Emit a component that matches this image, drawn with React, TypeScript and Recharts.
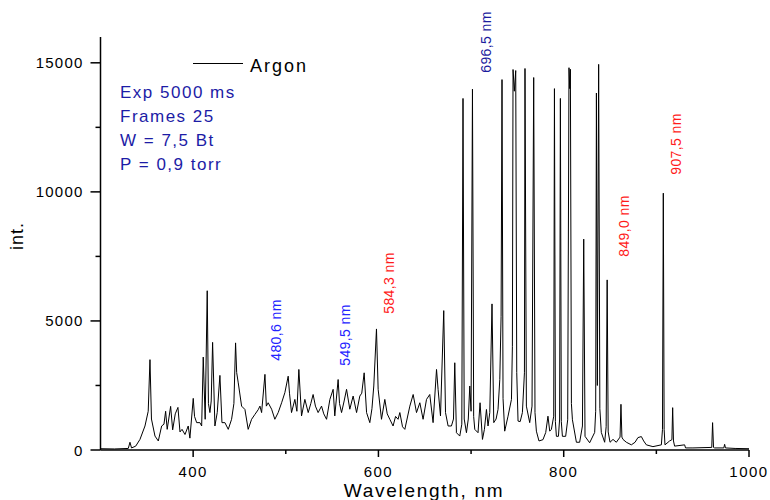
// Argon emission spectrum (300–1000 nm).
import { Line, LineChart, XAxis, YAxis } from "recharts";

// [wavelength nm, intensity] — near-UV / blue band
const blueBand: [number, number][] = [
  [300, 50], [315, 40], [330, 60], [331.8, 300], [333.5, 80], [338, 150], [342.6, 410],
  [348, 930], [351.5, 1500], [353.4, 3500], [355, 1200], [358.8, 540], [362.4, 350],
  [366, 930], [368.5, 1000], [370.3, 1500], [372, 800], [375.7, 1690], [377.9, 780],
  [380.7, 1400], [383.6, 1650], [385.8, 700], [388, 800], [391.2, 600], [394.7, 930],
  [396.5, 460], [400.1, 2000], [401.5, 1300], [403.8, 1060], [407.3, 1060], [409.2, 930],
  [410.9, 3600], [413, 1190], [415.2, 6170], [416.5, 1800], [418.1, 1450], [419.5, 1900],
  [421, 4170], [423.5, 930], [426, 1450], [428.9, 2890], [431.1, 1060], [434.3, 1060],
  [437.9, 800], [441.5, 1190], [444, 1800], [445.8, 4150], [447, 3000], [448.7, 2600],
  [452.3, 1700], [455.9, 1570], [459.4, 800], [463.1, 1190], [466.7, 1380], [470.2, 1560],
];

// green / yellow band
const greenBand: [number, number][] = [
  [472.1, 1700], [473.9, 1450], [477.5, 2930], [479, 1700], [481, 1830], [484.7, 1580],
  [488.2, 1190], [491.8, 1450], [495.5, 1830], [499, 2220], [502.6, 2860], [504, 2200],
  [506.2, 1450], [509.8, 1960], [512, 1500], [514.1, 3120], [517, 1320], [520.6, 1960],
  [524.2, 1450], [527, 1800], [529.5, 2150], [532, 1700], [534.9, 1450], [538.6, 1700],
  [541, 1400], [544, 1190], [547.6, 1960], [551.1, 2350], [552.9, 1320], [556.5, 2730],
  [558, 1800], [560.2, 1450], [563, 1900], [565.6, 2350], [569.1, 1580], [572.7, 2090],
  [576.4, 1450], [579.9, 2090], [582, 2200], [584.6, 2990], [587.2, 1450], [590.7, 1060],
  [593, 1600], [595, 2480], [597.9, 4690], [599.7, 2350], [603.3, 1190], [606.9, 1960],
  [609.5, 1400], [612.3, 1190], [615.8, 930], [618.5, 1300], [621.2, 1190],
];

// red band with the strong 4p-4s lines
const redBand: [number, number][] = [
  [623.1, 1450], [626, 900], [628.5, 800], [633.9, 1700], [637.5, 2150], [641.1, 1450],
  [644.7, 1830], [648.2, 1190], [651.9, 1960], [655.4, 2150], [659, 1060], [662.7, 3120],
  [664.4, 2350], [667, 1320], [670.5, 5400], [672.4, 1450], [675.2, 930], [678.8, 930],
  [681, 1200], [682.4, 3380], [684.2, 670], [687.8, 540], [690, 1000], [691.3, 13620],
  [692.6, 1200], [695, 670], [697, 1200], [698.6, 2480], [700, 1500], [701.5, 13980],
  [702.8, 1300], [704, 800], [707.5, 670], [709.7, 1830], [712.3, 410], [714.4, 800],
  [716.6, 1570], [718.3, 930], [720.2, 1450], [722.6, 5660], [724.5, 1060], [727, 1200],
  [729.1, 1570], [731, 2730], [732.4, 5180], [733.4, 14350], [734.5, 2000], [736.3, 730],
  [739.9, 1310], [743.6, 1960], [744.6, 4000], [745.3, 14740], [746.7, 13900],
  [748.2, 14700], [749.3, 3000], [750.7, 1120], [753, 1100], [755.4, 1450], [757.6, 2990],
  [758.2, 14780], [759.7, 1700], [763.3, 1060], [765.8, 1700], [767.6, 14430], [769, 1450],
  [770.5, 730], [773.3, 350],
];

// near-infrared band
const irBand: [number, number][] = [
  [777.6, 400], [780.6, 680], [783, 1310], [784.9, 730], [786.7, 800], [789.2, 1310],
  [790, 14000], [791, 1100], [792.1, 530], [794.3, 530], [795.6, 1200], [796.4, 13620],
  [797.4, 1100], [798.6, 530], [802.1, 530], [804.3, 1170], [805.7, 14810], [806.5, 14000],
  [807.2, 14750], [808.3, 1800], [809.4, 1170], [813.7, 300], [817.2, 300], [820.2, 930],
  [821.6, 8170], [823, 530], [828, 280], [833.4, 680], [834.5, 1500], [835.3, 13830],
  [836.3, 2500], [837.7, 14940], [839, 1600], [840.6, 680], [844.2, 300], [845.8, 900],
  [846.9, 6590], [848, 700], [850, 300], [853.2, 410], [856.8, 300], [860.8, 500],
  [861.8, 1770], [862.8, 500], [864, 410], [867.6, 300], [873, 200], [877, 300],
  [880.1, 480], [883.8, 520], [886.3, 350], [889.2, 200], [896.3, 130], [905.4, 200],
  [906.6, 800], [907.5, 9950], [908.4, 800], [909.3, 200], [914.3, 350], [916.8, 400],
  [917.6, 1640], [918.5, 350], [919.7, 150], [930.5, 200], [931.5, 80], [939.5, 80],
  [959.8, 100], [960.7, 1060], [961.7, 100], [962.9, 80], [972.8, 80], [973.7, 220],
  [974.6, 80], [985, 60], [1000, 50],
];

const X_TICKS = [300, 400, 500, 600, 700, 800, 900, 1000];
const X_LABELED = [400, 600, 800, 1000];
const Y_TICKS = [0, 2500, 5000, 7500, 10000, 12500, 15000];
const Y_LABELED = [0, 5000, 10000, 15000];

const INFO_LINES = ["Exp 5000 ms", "Frames 25", "W = 7,5 Bt", "P = 0,9 torr"];

// line annotations: text, colour, centre of the rotated label (px)
const MARKERS: { text: string; color: string; cx: number; cy: number }[] = [
  { text: "480,6 nm", color: "#2323ff", cx: 276, cy: 330 },
  { text: "549,5 nm", color: "#2323ff", cx: 345, cy: 335 },
  { text: "584,3 nm", color: "#ff1a1a", cx: 389, cy: 283 },
  { text: "696,5 nm", color: "#1c1c9e", cx: 486, cy: 42 },
  { text: "849,0 nm", color: "#ff1a1a", cx: 624, cy: 226 },
  { text: "907,5 nm", color: "#ff1a1a", cx: 676, cy: 144 },
];

const FONT = '"Liberation Sans", Arial, sans-serif';

const data = [...blueBand, ...greenBand, ...redBand, ...irBand].map(([wl, int]) => ({ wl, int }));

function XTick({ x, y, payload }: any) {
  const v = payload.value as number;
  if (v === 300) return null;
  const major = X_LABELED.includes(v);
  return (
    <g>
      <line x1={x} x2={x} y1={y} y2={y + (major ? 7 : 4)} stroke="#000" strokeWidth={1.5} />
      {major && (
        <text x={x} y={y + 27} textAnchor="middle" fontSize={15} letterSpacing={1.5} fill="#000" fontFamily={FONT}>
          {v}
        </text>
      )}
    </g>
  );
}

function YTick({ x, y, payload }: any) {
  const v = payload.value as number;
  const major = Y_LABELED.includes(v);
  return (
    <g>
      <line x1={x} x2={x - (major ? 10 : 5)} y1={y} y2={y} stroke="#000" strokeWidth={1.5} />
      {major && (
        <text x={x - 17} y={y + 5.5} textAnchor="end" fontSize={15} letterSpacing={1.2} fill="#000" fontFamily={FONT}>
          {v}
        </text>
      )}
    </g>
  );
}

export default function App() {
  return (
    <div style={{ position: "absolute", left: 0, top: 0, width: 770, height: 500, background: "#fff" }}>
      <LineChart width={770} height={500} data={data} margin={{ top: 37, right: 21, left: 40, bottom: 20 }}>
        <XAxis
          dataKey="wl"
          type="number"
          domain={[300, 1000]}
          ticks={X_TICKS}
          tick={<XTick />}
          tickLine={false}
          tickSize={0}
          tickMargin={0}
          height={30}
          interval={0}
          axisLine={{ stroke: "#000", strokeWidth: 1.5 }}
        />
        <YAxis
          type="number"
          domain={[0, 16000]}
          ticks={Y_TICKS}
          tick={<YTick />}
          tickLine={false}
          tickSize={0}
          tickMargin={0}
          width={60.5}
          interval={0}
          axisLine={{ stroke: "#000", strokeWidth: 1.5 }}
        />
        <Line type="linear" dataKey="int" stroke="#000" strokeWidth={1} dot={false} isAnimationActive={false} />
      </LineChart>
      <svg width={770} height={500} style={{ position: "absolute", left: 0, top: 0, pointerEvents: "none" }}>
        <g fontFamily={FONT}>
          <line x1={193} x2={243} y1={63.5} y2={63.5} stroke="#000" strokeWidth={1} />
          <text x={250} y={71.5} fontSize={18} letterSpacing={2} fill="#000">
            Argon
          </text>
          {INFO_LINES.map((t, i) => (
            <text key={t} x={120} y={98 + i * 24} fontSize={17} letterSpacing={1.5} fill="#1c1ca6">
              {t}
            </text>
          ))}
          {MARKERS.map((m) => (
            <text
              key={m.text}
              x={m.cx}
              y={m.cy}
              transform={`rotate(-90 ${m.cx} ${m.cy})`}
              textAnchor="middle"
              dominantBaseline="central"
              fontSize={14}
              letterSpacing={0.4}
              fill={m.color}
            >
              {m.text}
            </text>
          ))}
          <text x={424} y={497} textAnchor="middle" fontSize={19} letterSpacing={1.7} fill="#000">
            Wavelength, nm
          </text>
          <text
            x={17}
            y={236}
            transform="rotate(-90 17 236)"
            textAnchor="middle"
            dominantBaseline="central"
            fontSize={18}
            letterSpacing={1}
            fill="#000"
          >
            int.
          </text>
        </g>
      </svg>
    </div>
  );
}
